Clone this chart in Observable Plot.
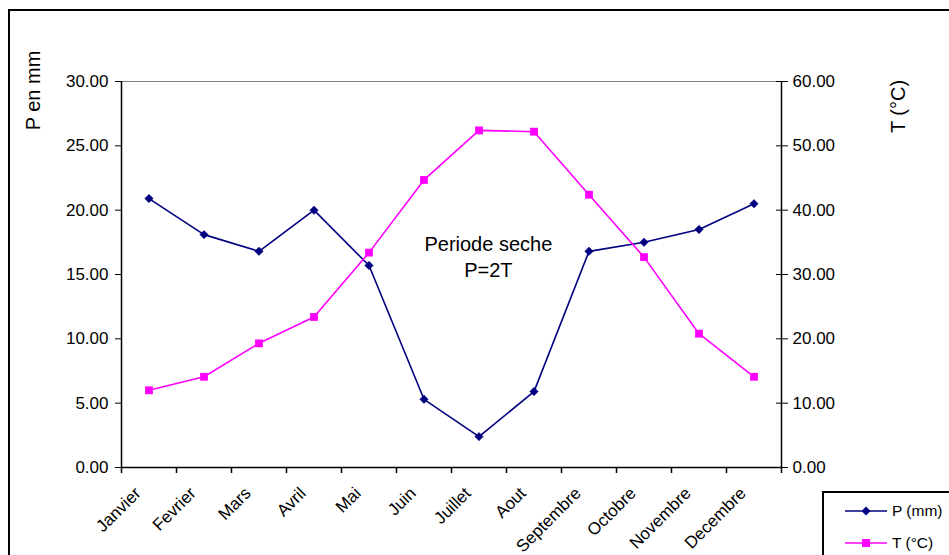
<!DOCTYPE html>
<html>
<head>
<meta charset="utf-8">
<script src="https://cdn.jsdelivr.net/npm/d3@7"></script>
<script src="https://cdn.jsdelivr.net/npm/@observablehq/plot@0.6"></script>
<style>
  html, body { margin: 0; padding: 0; background: #fff; overflow: hidden; }
  #wrap { position: relative; width: 949px; height: 555px; overflow: hidden; font-family: "Liberation Sans", Arial, sans-serif; }
  #frame { position: absolute; left: 8px; top: 9px; width: 1000px; height: 600px; border: 2px solid #000; box-sizing: border-box; }
  #chart { position: absolute; left: 0; top: 0; }
  #legend { position: absolute; left: 822px; top: 491px; width: 200px; height: 100px; border: 2px solid #000; background: #fff; box-sizing: border-box; }
  .lrow { position: absolute; left: 21px; height: 20px; display: flex; align-items: center; font-size: 15.5px; }
  .lrow svg { margin-right: 5px; }
</style>
</head>
<body>
<div id="wrap">
  <div id="frame"></div>
  <div id="chart"></div>
  <div id="legend"></div>
</div>
<script>
const months = ["Janvier","Fevrier","Mars","Avril","Mai","Juin","Juillet","Aout","Septembre","Octobre","Novembre","Decembre"];
const precip = [20.9, 18.1, 16.8, 20.0, 15.7, 5.3, 2.4, 5.9, 16.8, 17.5, 18.5, 20.5];
const temp = [12.0, 14.1, 19.3, 23.4, 33.4, 44.7, 52.4, 52.2, 42.4, 32.7, 20.8, 14.1];
const pTicks = [0, 5, 10, 15, 20, 25, 30];
const tTicks = [0, 10, 20, 30, 40, 50, 60];
const ratio = 2; // P = 2T
const seriesNames = ["P (mm)", "T (°C)"];
const axisTitles = ["P en mm", "T (°C)"];
const noteText = "Periode seche\nP=2T";

const navy = "#000080", magenta = "#FF00FF";
const rows = months.map((m, i) => ({i, m, P: precip[i], T: temp[i]}));
const fmt = d => d.toFixed(2);

const chart = Plot.plot({
  width: 949, height: 555,
  marginLeft: 121, marginRight: 168, marginTop: 81, marginBottom: 88,
  style: {fontFamily: "'Liberation Sans', Arial, sans-serif", fontSize: "17px", background: "transparent", overflow: "visible", color: "#000"},
  x: {domain: [0, 12]},
  y: {domain: [0, 30]},
  marks: [
    Plot.ruleY([30], {stroke: "#808080", strokeWidth: 1}),
    Plot.ruleY([0], {stroke: "#000", strokeWidth: 1.5}),
    Plot.ruleX([0], {stroke: "#000", strokeWidth: 1.5}),
    Plot.ruleX([12], {stroke: "#000", strokeWidth: 1.5}),
    Plot.axisY({anchor: "left", ticks: pTicks, tickFormat: fmt, tickSize: 6, tickPadding: 7, label: null, fontSize: 17}),
    Plot.axisY({anchor: "right", ticks: tTicks.map(t => t / ratio), tickFormat: d => fmt(d * ratio), tickSize: 6, tickPadding: 5, label: null, fontSize: 17}),
    Plot.axisY({anchor: "right", ticks: tTicks.map(t => t / ratio), tickFormat: () => "", tickSize: -6, label: null}),
    Plot.axisX({anchor: "bottom", ticks: d3.range(0, months.length + 1), tickFormat: () => "", tickSize: 6, strokeWidth: 1.5, label: null}),
    Plot.axisX({anchor: "bottom", ticks: months.map((m, i) => i + 0.5), tickFormat: d => months[Math.floor(d)], tickRotate: -45, tickSize: 0, tickPadding: 10, dx: -11, dy: 13, fontSize: 17, label: null}),
    Plot.line(rows, {x: d => d.i + 0.5, y: "P", stroke: navy, strokeWidth: 1.6}),
    Plot.dot(rows, {x: d => d.i + 0.5, y: "P", symbol: "diamond2", r: 3.8, fill: navy, stroke: navy, strokeWidth: 0.5}),
    Plot.line(rows, {x: d => d.i + 0.5, y: d => d.T / ratio, stroke: magenta, strokeWidth: 1.6}),
    Plot.dot(rows, {x: d => d.i + 0.5, y: d => d.T / ratio, symbol: "square", r: 4.4, fill: magenta, stroke: "none"}),
    Plot.text([noteText], {x: 6.67, y: 16.45, text: d => d, fontSize: 20, lineHeight: 1.3, fill: "#000"}),
    Plot.text([axisTitles[0]], {frameAnchor: "top-left", text: d => d, rotate: -90, textAnchor: "middle", lineAnchor: "middle", dx: -88, dy: 9, fontSize: 20, fill: "#000"}),
    Plot.text([axisTitles[1]], {frameAnchor: "top-right", text: d => d, rotate: -90, textAnchor: "middle", lineAnchor: "middle", dx: 117, dy: 25, fontSize: 20, fill: "#000"})
  ]
});
document.getElementById("chart").appendChild(chart);

const legend = document.getElementById("legend");
const items = [
  {name: seriesNames[0], color: navy, shape: "diamond"},
  {name: seriesNames[1], color: magenta, shape: "square"}
];
items.forEach((it, k) => {
  const row = document.createElement("div");
  row.className = "lrow";
  row.style.top = (8 + k * 31.5) + "px";
  const marker = it.shape === "diamond"
    ? `<path d="M21,5.5 L25.5,10 L21,14.5 L16.5,10 Z" fill="${it.color}"/>`
    : `<rect x="17" y="6" width="8" height="8" fill="${it.color}"/>`;
  row.innerHTML = `<svg width="42" height="20"><line x1="0" y1="10" x2="42" y2="10" stroke="${it.color}" stroke-width="1.6"/>${marker}</svg><span>${it.name}</span>`;
  legend.appendChild(row);
});
</script>
</body>
</html>
